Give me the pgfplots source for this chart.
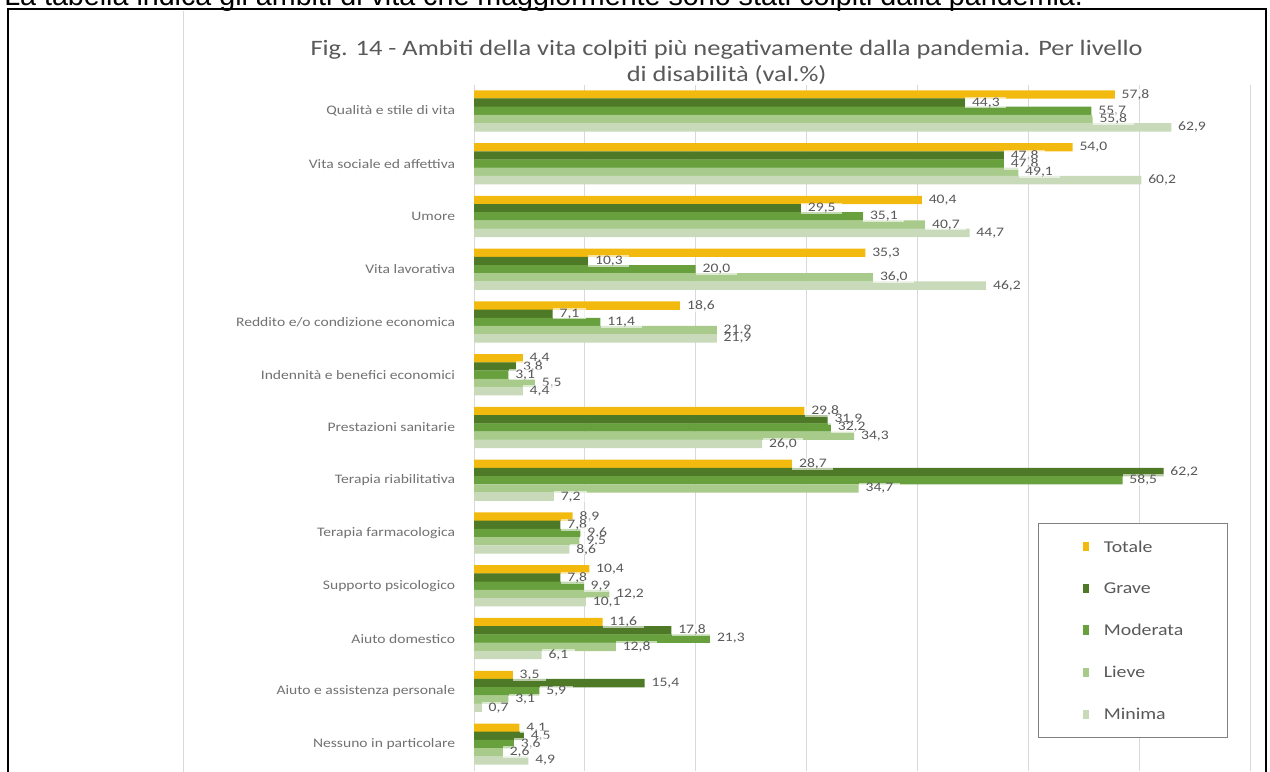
\documentclass[border=0pt]{standalone}
\usepackage{fontspec}
\setmainfont{Carlito}[FakeStretch=1.2]
\newfontfamily\headfont{Liberation Sans}
\usepackage{pgfplots}
\usepackage{pgfplotstable}
\pgfplotsset{compat=1.18}
\definecolor{cTot}{HTML}{F2BA0F}
\definecolor{cGra}{HTML}{4E7A27}
\definecolor{cMod}{HTML}{67A03C}
\definecolor{cLie}{HTML}{A8CB8C}
\definecolor{cMin}{HTML}{C8DAB9}
\definecolor{txt}{HTML}{595959}
\definecolor{gridc}{HTML}{D9D9D9}
\definecolor{legc}{HTML}{808080}

\pgfplotstableread{
cat Totale Grave Moderata Lieve Minima
0 57.8 44.3 55.7 55.8 62.9
1 54.0 47.8 47.8 49.1 60.2
2 40.4 29.5 35.1 40.7 44.7
3 35.3 10.3 20.0 36.0 46.2
4 18.6 7.1 11.4 21.9 21.9
5 4.4 3.8 3.1 5.5 4.4
6 29.8 31.9 32.2 34.3 26.0
7 28.7 62.2 58.5 34.7 7.2
8 8.9 7.8 9.6 9.5 8.6
9 10.4 7.8 9.9 12.2 10.1
10 11.6 17.8 21.3 12.8 6.1
11 3.5 15.4 5.9 3.1 0.7
12 4.1 4.5 3.6 2.6 4.9
}\data

\pgfplotsset{
  barbase/.style={xbar, bar width=6.3pt, bar shift=0pt, draw=none},
  lab/.style={xbar, bar width=6.3pt, bar shift=0pt, draw=none, fill=none, forget plot,
    point meta=x,
    nodes near coords={\pgfmathprintnumber[fixed,fixed zerofill,precision=1,use comma]{\pgfplotspointmeta}},
    nodes near coords style={anchor=west, font=\fontsize{9.75}{11}\selectfont, text=txt,
      fill=white, fill opacity=0.6, text opacity=1, inner xsep=5pt, inner ysep=0.5pt}},
}

\begin{document}
\begin{tikzpicture}
\useasboundingbox (0,0) rectangle (952.5pt,-578.25pt);
\clip (0,0) rectangle (952.5pt,-578.25pt);
\fill[white] (0,0) rectangle (952.5pt,-578.25pt);
\node[anchor=base west, inner sep=0pt, font=\headfont\fontsize{21.5}{24}\selectfont] at (3pt,-3.9pt)
  {La tabella indica gli ambiti di vita che maggiormente sono stati colpiti dalla pandemia.};
\draw[line width=1.5pt] (6pt,-600pt) -- (6pt,-7.1pt) -- (949.5pt,-7.1pt) -- (949.5pt,-600pt);
\draw[gridc, line width=0.75pt] (137.25pt,-8pt) -- (137.25pt,-600pt);
\node[align=center, text=txt, font=\fontsize{16.5}{19.5}\selectfont] at (545pt,-46.5pt)
  {Fig. 14 - Ambiti della vita colpiti più negativamente dalla pandemia. Per livello\\di disabilità (val.\%)};
\begin{axis}[
  scale only axis, width=582pt, height=514.5pt,
  at={(355.5pt,-577.875pt)}, anchor=south west,
  xmin=0, xmax=70, ymin=-0.5, ymax=12.5, y dir=reverse,
  axis line style={draw=none},
  xtick={0,10,...,70}, xticklabels={},
  xmajorgrids, grid style={gridc, line width=0.75pt},
  major tick length=0pt,
  ytick={0,...,12},
  yticklabels={Qualità e stile di vita, Vita sociale ed affettiva, Umore, Vita lavorativa,
    Reddito e/o condizione economica, Indennità e benefici economici, Prestazioni sanitarie,
    Terapia riabilitativa, Terapia farmacologica, Supporto psicologico, Aiuto domestico,
    Aiuto e assistenza personale, Nessuno in particolare},
  yticklabel style={font=\fontsize{9.75}{11}\selectfont, text=txt!85, inner sep=0pt},
  yticklabel shift=14pt,
  /pgf/number format/assume math mode=true,
  clip=false,
  legend cell align=left,
  legend style={at={(0.7268,0.3608)}, anchor=north west, draw=legc, line width=0.75pt, fill=white,
    inner xsep=33pt, inner ysep=13pt, row sep=23pt, column sep=11pt,
    font=\fontsize{12.4}{14}\selectfont, text=txt, nodes={inner sep=0pt, text depth=0pt}},
]
\addplot[barbase, fill=cTot, legend image code/.code={\fill[cTot] (0pt,-3.5pt) rectangle (5pt,3.5pt);}]
  table[x=Totale, y expr=\thisrow{cat}-0.311]{\data};
\addlegendentry{Totale}
\addplot[barbase, fill=cGra, legend image code/.code={\fill[cGra] (0pt,-3.5pt) rectangle (5pt,3.5pt);}]
  table[x=Grave, y expr=\thisrow{cat}-0.1555]{\data};
\addlegendentry{Grave}
\addplot[barbase, fill=cMod, legend image code/.code={\fill[cMod] (0pt,-3.5pt) rectangle (5pt,3.5pt);}]
  table[x=Moderata, y expr=\thisrow{cat}]{\data};
\addlegendentry{Moderata}
\addplot[barbase, fill=cLie, legend image code/.code={\fill[cLie] (0pt,-3.5pt) rectangle (5pt,3.5pt);}]
  table[x=Lieve, y expr=\thisrow{cat}+0.1555]{\data};
\addlegendentry{Lieve}
\addplot[barbase, fill=cMin, legend image code/.code={\fill[cMin] (0pt,-3.5pt) rectangle (5pt,3.5pt);}]
  table[x=Minima, y expr=\thisrow{cat}+0.311]{\data};
\addlegendentry{Minima}
\addplot[lab] table[x=Totale, y expr=\thisrow{cat}-0.311]{\data};
\addplot[lab] table[x=Grave, y expr=\thisrow{cat}-0.1555]{\data};
\addplot[lab] table[x=Moderata, y expr=\thisrow{cat}]{\data};
\addplot[lab] table[x=Lieve, y expr=\thisrow{cat}+0.1555]{\data};
\addplot[lab] table[x=Minima, y expr=\thisrow{cat}+0.311]{\data};
\end{axis}
\end{tikzpicture}
\end{document}
